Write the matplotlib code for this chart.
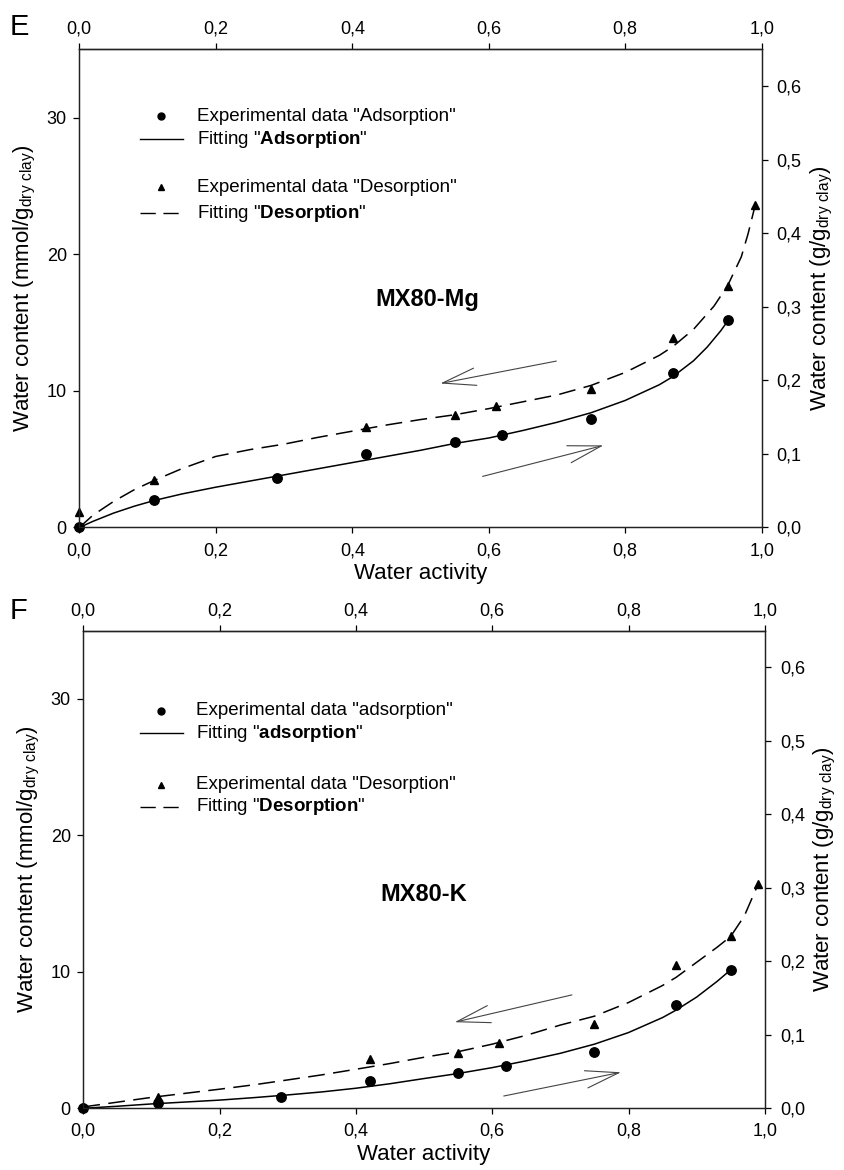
import matplotlib
matplotlib.use('Agg')
import matplotlib.pyplot as plt

plt.rcParams['font.family'] = ['Liberation Sans', 'DejaVu Sans']
plt.rcParams['mathtext.fontset'] = 'custom'
plt.rcParams['mathtext.rm'] = 'Liberation Sans'
plt.rcParams['mathtext.it'] = 'Liberation Sans:italic'
plt.rcParams['mathtext.bf'] = 'Liberation Sans:bold'

# ---------------- data ----------------
x_ticks = [0.0, 0.2, 0.4, 0.6, 0.8, 1.0]
x_ticklabels = ["0,0", "0,2", "0,4", "0,6", "0,8", "1,0"]
yl_ticks = [0, 10, 20, 30]
yl_ticklabels = ["0", "10", "20", "30"]
yr_ticks = [0.0, 0.1, 0.2, 0.3, 0.4, 0.5, 0.6]
yr_ticklabels = ["0,0", "0,1", "0,2", "0,3", "0,4", "0,5", "0,6"]

# Panel E : MX80-Mg
E_ads_aw = [0.0, 0.11, 0.29, 0.42, 0.55, 0.62, 0.75, 0.87, 0.95]
E_ads_w = [0.0, 1.98, 3.64, 5.40, 6.23, 6.80, 7.95, 11.34, 15.18]
E_des_aw = [0.0, 0.11, 0.42, 0.55, 0.61, 0.75, 0.87, 0.95, 0.99]
E_des_w = [1.12, 3.50, 7.36, 8.22, 8.92, 10.17, 13.90, 17.70, 23.60]
E_fit_ads_aw = [0.0, 0.02, 0.05, 0.08, 0.11, 0.15, 0.2, 0.25, 0.3, 0.35, 0.4, 0.45,
                0.5, 0.55, 0.6, 0.65, 0.7, 0.75, 0.8, 0.85, 0.87, 0.9, 0.92, 0.94, 0.95]
E_fit_ads_w = [0.0, 0.45, 1.05, 1.55, 1.98, 2.45, 2.95, 3.40, 3.85, 4.30, 4.75, 5.20,
               5.65, 6.15, 6.55, 7.10, 7.70, 8.40, 9.30, 10.45, 11.05, 12.20, 13.20, 14.40, 15.10]
E_fit_des_aw = [0.0, 0.02, 0.05, 0.08, 0.11, 0.15, 0.2, 0.25, 0.3, 0.35, 0.4, 0.45,
                0.5, 0.55, 0.6, 0.65, 0.7, 0.75, 0.8, 0.85, 0.87, 0.9, 0.93, 0.95, 0.97, 0.98, 0.99]
E_fit_des_w = [0.0, 0.90, 1.90, 2.75, 3.45, 4.30, 5.20, 5.70, 6.10, 6.60, 7.05, 7.50,
               7.90, 8.25, 8.70, 9.20, 9.70, 10.40, 11.35, 12.60, 13.25, 14.50, 16.20, 17.70, 19.80, 21.50, 23.50]

# Panel F : MX80-K
F_ads_aw = [0.0, 0.11, 0.29, 0.42, 0.55, 0.62, 0.75, 0.87, 0.95]
F_ads_w = [0.0, 0.37, 0.80, 1.98, 2.62, 3.10, 4.10, 7.55, 10.17]
F_des_aw = [0.0, 0.11, 0.42, 0.55, 0.61, 0.75, 0.87, 0.95, 0.99]
F_des_w = [0.10, 0.80, 3.60, 4.08, 4.79, 6.19, 10.49, 12.64, 16.43]
F_fit_ads_aw = [0.0, 0.05, 0.1, 0.15, 0.2, 0.25, 0.3, 0.35, 0.4, 0.45, 0.5, 0.55,
                0.6, 0.65, 0.7, 0.75, 0.8, 0.85, 0.87, 0.9, 0.93, 0.95]
F_fit_ads_w = [0.0, 0.15, 0.32, 0.46, 0.60, 0.78, 0.98, 1.20, 1.47, 1.80, 2.18, 2.55,
               2.98, 3.48, 4.03, 4.70, 5.55, 6.65, 7.20, 8.15, 9.30, 10.15]
F_fit_des_aw = [0.0, 0.05, 0.1, 0.15, 0.2, 0.25, 0.3, 0.35, 0.4, 0.45, 0.5, 0.55,
                0.6, 0.65, 0.7, 0.75, 0.8, 0.85, 0.87, 0.9, 0.93, 0.95, 0.97, 0.99]
F_fit_des_w = [0.10, 0.45, 0.80, 1.10, 1.40, 1.72, 2.08, 2.45, 2.86, 3.28, 3.74, 4.15,
               4.70, 5.35, 6.10, 6.75, 7.75, 9.00, 9.60, 10.70, 11.80, 12.60, 14.10, 16.40]

panels = [
    dict(letter="E", name="MX80-Mg", rect=[0.09385, 0.54915, 0.8076, 0.40872],
         ads=(E_ads_aw, E_ads_w), des=(E_des_aw, E_des_w),
         fads=(E_fit_ads_aw, E_fit_ads_w), fdes=(E_fit_des_aw, E_fit_des_w),
         adsword="Adsorption", name_xy=(0.51, 16.7),
         leg_y=[30.1, 28.4, 24.9, 23.0], leg_x=(0.089, 0.12, 0.152, 0.172),
         arr_des=((0.699, 12.18), (0.529, 10.54)),
         arr_ads=((0.591, 3.74), (0.768, 6.01)),
         letter_xy=(0.0112, 0.9701)),
    dict(letter="F", name="MX80-K", rect=[0.09858, 0.05274, 0.80651, 0.40821],
         ads=(F_ads_aw, F_ads_w), des=(F_des_aw, F_des_w),
         fads=(F_fit_ads_aw, F_fit_ads_w), fdes=(F_fit_des_aw, F_fit_des_w),
         adsword="adsorption", name_xy=(0.50, 15.7),
         leg_y=[29.15, 27.5, 23.7, 22.1], leg_x=(0.083, 0.114, 0.146, 0.166),
         arr_des=((0.717, 8.31), (0.545, 6.31)),
         arr_ads=((0.617, 0.90), (0.789, 2.64)),
         letter_xy=(0.0112, 0.4709)),
]

TICK_FS = 13
LAB_FS = 16
LEG_FS = 13.5
SPINE_C = '#222222'

fig = plt.figure(figsize=(8.45, 11.7), dpi=100)

for p in panels:
    ax = fig.add_axes(p["rect"])
    ax.set_xlim(0, 1.0)
    ax.set_ylim(0, 35)

    # fits
    ax.plot(*p["fads"], color='black', lw=1.1, solid_capstyle='butt')
    ax.plot(*p["fdes"], color='black', lw=1.1, linestyle=(0, (11, 5.5)))
    # data
    ax.plot(*p["ads"], 'o', color='black', ms=6.8, clip_on=False, zorder=5)
    ax.plot(*p["des"], '^', color='black', ms=6.2, clip_on=False, zorder=5)

    # arrows
    for tail, tip in (p["arr_des"], p["arr_ads"]):
        ax.annotate('', xy=tip, xytext=tail,
                    arrowprops=dict(arrowstyle='->,head_length=2.4,head_width=0.63',
                                    color='#444444', lw=0.8, shrinkA=0, shrinkB=0,
                                    mutation_scale=10))

    # sample name
    ax.text(p["name_xy"][0], p["name_xy"][1], p["name"], fontsize=17,
            fontweight='bold', ha='center', va='center')

    # manual legend
    lx0, lxm, lx1, ltx = p["leg_x"]
    y1, y2, y3, y4 = p["leg_y"]
    ax.plot([lxm], [y1], 'o', color='black', ms=5)
    ax.text(ltx, y1, 'Experimental data "%s"' % p["adsword"], fontsize=LEG_FS, va='center')
    ax.plot([lx0, lx1], [y2, y2], color='black', lw=1.0)
    ax.text(ltx, y2, 'Fitting "$\\mathbf{%s}$"' % p["adsword"], fontsize=LEG_FS, va='center')
    ax.plot([lxm], [y3], '^', color='black', ms=5)
    ax.text(ltx, y3, 'Experimental data "Desorption"', fontsize=LEG_FS, va='center')
    ax.plot([lx0, lx1], [y4, y4], color='black', lw=1.0, linestyle=(0, (11, 5.5)))
    ax.text(ltx, y4, 'Fitting "$\\mathbf{Desorption}$"', fontsize=LEG_FS, va='center')

    # axes styling
    ax.set_xticks(x_ticks)
    ax.set_xticklabels(x_ticklabels)
    ax.set_yticks(yl_ticks)
    ax.set_yticklabels(yl_ticklabels)
    ax.tick_params(axis='x', direction='out', length=4.5, width=0.9, pad=6.0,
                   labelsize=TICK_FS, colors='black')
    ax.tick_params(axis='y', direction='out', length=4.5, width=0.9, pad=4.5,
                   labelsize=TICK_FS, right=False)
    for s in ax.spines.values():
        s.set_linewidth(0.9)
        s.set_color(SPINE_C)
    ax.set_xlabel('Water activity', fontsize=LAB_FS, labelpad=3)
    ax.set_ylabel('Water content (mmol/g$_{\\mathrm{dry\\ clay}}$)', fontsize=LAB_FS, labelpad=6)

    # top axis
    sec = ax.secondary_xaxis('top')
    sec.set_xticks(x_ticks)
    sec.set_xticklabels(x_ticklabels)
    sec.tick_params(direction='out', length=4.5, width=0.9, pad=3.8, labelsize=TICK_FS)
    sec.spines['top'].set_linewidth(0.9)
    sec.spines['top'].set_color(SPINE_C)

    # right axis
    axr = ax.twinx()
    axr.set_ylim(0, 0.65)
    axr.set_yticks(yr_ticks)
    axr.set_yticklabels(yr_ticklabels)
    axr.tick_params(axis='y', direction='out', length=4.5, width=0.9, pad=6.3,
                    labelsize=TICK_FS)
    for s in axr.spines.values():
        s.set_linewidth(0.9)
        s.set_color(SPINE_C)
    axr.set_ylabel('Water content (g/g$_{\\mathrm{dry\\ clay}}$)', fontsize=LAB_FS, labelpad=5)

    fig.text(p["letter_xy"][0], p["letter_xy"][1], p["letter"], fontsize=21,
             va='baseline', ha='left')

fig.savefig('out.png', dpi=100)
